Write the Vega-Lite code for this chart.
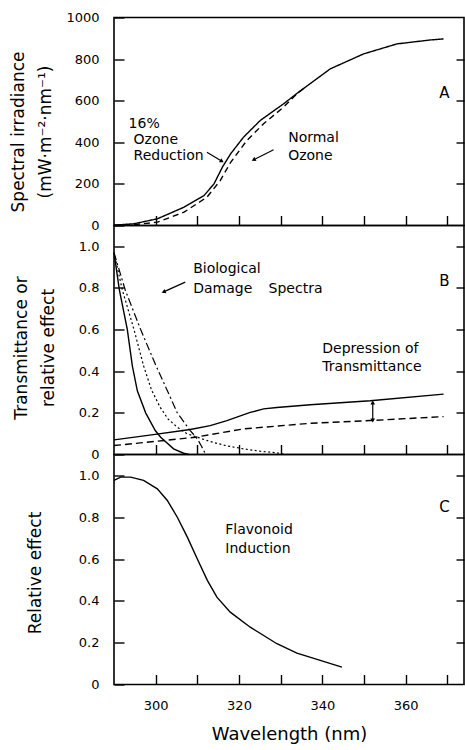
{
  "$schema": "https://vega.github.io/schema/vega-lite/v6.json",
  "padding": {"left": 8, "top": 10.5, "right": 0, "bottom": 0},
  "spacing": 0,
  "bounds": "flush",
  "config": {
    "font": "DejaVu Sans",
    "view": {"stroke": "black", "strokeWidth": 1.6},
    "axis": {"domain": false, "grid": false, "tickColor": "black", "tickWidth": 1.4, "labelColor": "black", "labelFontSize": 13, "titleColor": "black", "titleFontWeight": "normal", "titleFont": "DejaVu Sans", "labelFont": "DejaVu Sans"},
    "text": {"font": "DejaVu Sans", "color": "black"}
  },
  "datasets": {
    "irr": [
      {"series": "reduced", "wl": 290, "v": 2}, {"series": "reduced", "wl": 294.7, "v": 8}, {"series": "reduced", "wl": 300.4, "v": 32},
      {"series": "reduced", "wl": 306.8, "v": 88}, {"series": "reduced", "wl": 311.6, "v": 144}, {"series": "reduced", "wl": 314, "v": 200},
      {"series": "reduced", "wl": 316, "v": 280}, {"series": "reduced", "wl": 318, "v": 345}, {"series": "reduced", "wl": 321.1, "v": 425},
      {"series": "reduced", "wl": 325.1, "v": 505}, {"series": "reduced", "wl": 330.7, "v": 585}, {"series": "reduced", "wl": 334.3, "v": 641},
      {"series": "reduced", "wl": 341.9, "v": 753}, {"series": "reduced", "wl": 349.9, "v": 825}, {"series": "reduced", "wl": 357.9, "v": 873},
      {"series": "reduced", "wl": 365.9, "v": 892}, {"series": "reduced", "wl": 369.1, "v": 897},
      {"series": "normal", "wl": 290, "v": 0}, {"series": "normal", "wl": 294.7, "v": 4}, {"series": "normal", "wl": 300.4, "v": 16},
      {"series": "normal", "wl": 306.8, "v": 64}, {"series": "normal", "wl": 312.3, "v": 136}, {"series": "normal", "wl": 315.5, "v": 216},
      {"series": "normal", "wl": 318, "v": 304}, {"series": "normal", "wl": 321.9, "v": 409}, {"series": "normal", "wl": 325.9, "v": 489},
      {"series": "normal", "wl": 330.7, "v": 569}, {"series": "normal", "wl": 333.9, "v": 633}, {"series": "normal", "wl": 335.5, "v": 659}
    ],
    "panelB": [
      {"series": "trans-reduced", "wl": 290, "v": 0.07}, {"series": "trans-reduced", "wl": 299, "v": 0.094}, {"series": "trans-reduced", "wl": 308.3, "v": 0.12},
      {"series": "trans-reduced", "wl": 313.1, "v": 0.139}, {"series": "trans-reduced", "wl": 317.1, "v": 0.163}, {"series": "trans-reduced", "wl": 322.7, "v": 0.202},
      {"series": "trans-reduced", "wl": 325.9, "v": 0.219}, {"series": "trans-reduced", "wl": 329.1, "v": 0.226}, {"series": "trans-reduced", "wl": 337.1, "v": 0.239},
      {"series": "trans-reduced", "wl": 351.5, "v": 0.258}, {"series": "trans-reduced", "wl": 369.1, "v": 0.29},
      {"series": "trans-normal", "wl": 290, "v": 0.043}, {"series": "trans-normal", "wl": 300, "v": 0.063}, {"series": "trans-normal", "wl": 309.5, "v": 0.083},
      {"series": "trans-normal", "wl": 321.1, "v": 0.123}, {"series": "trans-normal", "wl": 337.1, "v": 0.15}, {"series": "trans-normal", "wl": 351.5, "v": 0.163},
      {"series": "trans-normal", "wl": 369.1, "v": 0.182},
      {"series": "damage-a", "wl": 290, "v": 0.97}, {"series": "damage-a", "wl": 291.3, "v": 0.79}, {"series": "damage-a", "wl": 293.2, "v": 0.6},
      {"series": "damage-a", "wl": 294.4, "v": 0.426}, {"series": "damage-a", "wl": 295.6, "v": 0.306}, {"series": "damage-a", "wl": 297.6, "v": 0.2},
      {"series": "damage-a", "wl": 299.9, "v": 0.115}, {"series": "damage-a", "wl": 301.2, "v": 0.083}, {"series": "damage-a", "wl": 304.3, "v": 0.027},
      {"series": "damage-a", "wl": 306.7, "v": 0.006}, {"series": "damage-a", "wl": 308, "v": 0},
      {"series": "damage-b", "wl": 290, "v": 0.97}, {"series": "damage-b", "wl": 292, "v": 0.79}, {"series": "damage-b", "wl": 294.8, "v": 0.6},
      {"series": "damage-b", "wl": 297.1, "v": 0.426}, {"series": "damage-b", "wl": 299, "v": 0.31}, {"series": "damage-b", "wl": 301.1, "v": 0.226},
      {"series": "damage-b", "wl": 303, "v": 0.17}, {"series": "damage-b", "wl": 305.2, "v": 0.131}, {"series": "damage-b", "wl": 307.5, "v": 0.1},
      {"series": "damage-b", "wl": 310, "v": 0.083}, {"series": "damage-b", "wl": 313.1, "v": 0.062}, {"series": "damage-b", "wl": 317, "v": 0.042},
      {"series": "damage-b", "wl": 321.1, "v": 0.027}, {"series": "damage-b", "wl": 325, "v": 0.016}, {"series": "damage-b", "wl": 329.1, "v": 0.008},
      {"series": "damage-b", "wl": 331, "v": 0},
      {"series": "damage-c", "wl": 290, "v": 0.97}, {"series": "damage-c", "wl": 292.7, "v": 0.79}, {"series": "damage-c", "wl": 296.4, "v": 0.6},
      {"series": "damage-c", "wl": 300, "v": 0.43}, {"series": "damage-c", "wl": 302.5, "v": 0.32}, {"series": "damage-c", "wl": 305.2, "v": 0.2},
      {"series": "damage-c", "wl": 307, "v": 0.15}, {"series": "damage-c", "wl": 308.3, "v": 0.115}, {"series": "damage-c", "wl": 310, "v": 0.075},
      {"series": "damage-c", "wl": 311, "v": 0.04}, {"series": "damage-c", "wl": 312, "v": 0}
    ],
    "flav": [
      {"wl": 290, "v": 0.976}, {"wl": 291.6, "v": 0.992}, {"wl": 294, "v": 0.992}, {"wl": 297.1, "v": 0.976}, {"wl": 300.4, "v": 0.936},
      {"wl": 302.8, "v": 0.88}, {"wl": 305.2, "v": 0.8}, {"wl": 307.6, "v": 0.705}, {"wl": 310, "v": 0.6}, {"wl": 312.4, "v": 0.498},
      {"wl": 314.7, "v": 0.418}, {"wl": 317.9, "v": 0.346}, {"wl": 322.7, "v": 0.274}, {"wl": 329.1, "v": 0.195}, {"wl": 333.9, "v": 0.15},
      {"wl": 339.5, "v": 0.115}, {"wl": 344.7, "v": 0.083}
    ],
    "textA": [
      {"t": "16%", "wl": 293.5, "v": 490}, {"t": "Ozone", "wl": 294.7, "v": 413}, {"t": "Reduction", "wl": 294.7, "v": 332},
      {"t": "Normal", "wl": 331.8, "v": 423}, {"t": "Ozone", "wl": 331.8, "v": 332}
    ],
    "textB": [
      {"t": "Biological", "wl": 309, "v": 0.891}, {"t": "Damage", "wl": 309, "v": 0.793}, {"t": "Spectra", "wl": 327.1, "v": 0.793},
      {"t": "Depression of", "wl": 340, "v": 0.506}, {"t": "Transmittance", "wl": 340, "v": 0.418}
    ],
    "textC": [
      {"t": "Flavonoid", "wl": 316.7, "v": 0.737}, {"t": "Induction", "wl": 316.7, "v": 0.649}
    ],
    "arrowsA": [
      {"id": "reduction", "wl": 312.3, "v": 352, "wl2": 315.9, "v2": 309},
      {"id": "normal", "wl": 328.3, "v": 364, "wl2": 323.5, "v2": 316}
    ],
    "arrowsB": [
      {"id": "bio", "wl": 307.1, "v": 0.828, "wl2": 301.9, "v2": 0.781},
      {"id": "depression", "wl": 352.1, "v": 0.163, "wl2": 352.1, "v2": 0.25}
    ],
    "letters": [
      {"panel": "A", "wl": 369.3, "v": 635}, {"panel": "B", "wl": 369.3, "v": 0.833}, {"panel": "C", "wl": 369.3, "v": 0.847}
    ]
  },
  "vconcat": [
    {
      "width": 350, "height": 208,
      "resolve": {"axis": {"y": "independent"}},
      "layer": [
        {
          "data": {"name": "irr"},
          "mark": {"type": "line", "color": "black", "strokeWidth": 1.4},
          "encoding": {
            "x": {"field": "wl", "type": "quantitative", "scale": {"domain": [290, 374], "nice": false, "zero": false},
                  "axis": {"orient": "bottom", "values": [300, 310, 320, 330, 340, 350, 360, 370], "labels": false, "offset": -10, "tickSize": 10, "title": null}},
            "y": {"field": "v", "type": "quantitative", "scale": {"domain": [0, 1000], "nice": false},
                  "axis": {"orient": "left", "values": [0, 200, 400, 600, 800, 1000], "format": "d", "offset": -10, "tickSize": 10, "labelPadding": 15,
                           "title": ["Spectral irradiance", "(mW·m⁻²·nm⁻¹)"], "titleFontSize": 17, "titleLineHeight": 27,
                           "titleAngle": -90, "titleX": -114, "titleY": 114, "titleBaseline": "top", "titleAlign": "center"}},
            "strokeDash": {"field": "series", "type": "nominal", "scale": {"domain": ["reduced", "normal"], "range": [[1, 0], [6, 4]]}, "legend": null}
          }
        },
        {
          "data": {"name": "letters"},
          "transform": [{"filter": "datum.panel == 'A'"}],
          "mark": {"type": "text", "fontSize": 15, "align": "center", "baseline": "middle"},
          "encoding": {
            "x": {"field": "wl", "type": "quantitative"},
            "y": {"field": "v", "type": "quantitative",
                  "axis": {"orient": "right", "values": [200, 400, 600, 800], "labels": false, "offset": -8, "tickSize": 8, "title": null}},
            "text": {"field": "panel"}
          }
        },
        {
          "data": {"name": "textA"},
          "mark": {"type": "text", "fontSize": 14, "align": "left", "baseline": "middle"},
          "encoding": {
            "x": {"field": "wl", "type": "quantitative"},
            "y": {"field": "v", "type": "quantitative", "axis": null},
            "text": {"field": "t"}
          }
        },
        {
          "data": {"name": "arrowsA"},
          "mark": {"type": "rule", "color": "black", "strokeWidth": 1.2},
          "encoding": {
            "x": {"field": "wl", "type": "quantitative"}, "x2": {"field": "wl2"},
            "y": {"field": "v", "type": "quantitative", "axis": null}, "y2": {"field": "v2"}
          }
        },
        {
          "data": {"name": "arrowsA"},
          "transform": [{"filter": "datum.id == 'reduction'"}],
          "mark": {"type": "point", "shape": "triangle-up", "filled": true, "color": "black", "size": 22, "angle": 121, "opacity": 1},
          "encoding": {
            "x": {"field": "wl2", "type": "quantitative"},
            "y": {"field": "v2", "type": "quantitative", "axis": null}
          }
        },
        {
          "data": {"name": "arrowsA"},
          "transform": [{"filter": "datum.id == 'normal'"}],
          "mark": {"type": "point", "shape": "triangle-up", "filled": true, "color": "black", "size": 22, "angle": 243, "opacity": 1},
          "encoding": {
            "x": {"field": "wl2", "type": "quantitative"},
            "y": {"field": "v2", "type": "quantitative", "axis": null}
          }
        }
      ]
    },
    {
      "width": 350, "height": 229,
      "resolve": {"axis": {"y": "independent"}},
      "layer": [
        {
          "data": {"name": "panelB"},
          "transform": [{"filter": "datum.series == 'trans-reduced' || datum.series == 'damage-a'"}],
          "mark": {"type": "line", "color": "black", "strokeWidth": 1.4},
          "encoding": {
            "x": {"field": "wl", "type": "quantitative", "scale": {"domain": [290, 374], "nice": false, "zero": false},
                  "axis": {"orient": "bottom", "values": [300, 310, 320, 330, 340, 350, 360, 370], "labels": false, "offset": -10, "tickSize": 10, "title": null}},
            "y": {"field": "v", "type": "quantitative", "scale": {"domain": [0, 1.1], "nice": false},
                  "axis": {"orient": "left", "values": [0, 0.2, 0.4, 0.6, 0.8, 1.0], "offset": -10, "tickSize": 10, "labelPadding": 15,
                           "labelExpr": "datum.value == 0 ? '0' : format(datum.value, '.1f')",
                           "title": ["Transmittance or", "relative effect"], "titleFontSize": 17, "titleLineHeight": 27,
                           "titleAngle": -90, "titleX": -111, "titleY": 122, "titleBaseline": "top", "titleAlign": "center"}},
            "detail": {"field": "series"}
          }
        },
        {
          "data": {"name": "panelB"},
          "transform": [{"filter": "datum.series == 'trans-normal'"}],
          "mark": {"type": "line", "color": "black", "strokeWidth": 1.4, "strokeDash": [7, 4]},
          "encoding": {
            "x": {"field": "wl", "type": "quantitative"},
            "y": {"field": "v", "type": "quantitative", "axis": null}
          }
        },
        {
          "data": {"name": "panelB"},
          "transform": [{"filter": "datum.series == 'damage-b'"}],
          "mark": {"type": "line", "color": "black", "strokeWidth": 1.2, "strokeDash": [2, 2.5]},
          "encoding": {
            "x": {"field": "wl", "type": "quantitative"},
            "y": {"field": "v", "type": "quantitative", "axis": null}
          }
        },
        {
          "data": {"name": "panelB"},
          "transform": [{"filter": "datum.series == 'damage-c'"}],
          "mark": {"type": "line", "color": "black", "strokeWidth": 1.2, "strokeDash": [8, 3, 2, 3]},
          "encoding": {
            "x": {"field": "wl", "type": "quantitative"},
            "y": {"field": "v", "type": "quantitative", "axis": null}
          }
        },
        {
          "data": {"name": "letters"},
          "transform": [{"filter": "datum.panel == 'B'"}],
          "mark": {"type": "text", "fontSize": 15, "align": "center", "baseline": "middle"},
          "encoding": {
            "x": {"field": "wl", "type": "quantitative"},
            "y": {"field": "v", "type": "quantitative",
                  "axis": {"orient": "right", "values": [0.2, 0.4, 0.6, 0.8, 1.0], "labels": false, "offset": -8, "tickSize": 8, "title": null}},
            "text": {"field": "panel"}
          }
        },
        {
          "data": {"name": "textB"},
          "mark": {"type": "text", "fontSize": 14, "align": "left", "baseline": "middle"},
          "encoding": {
            "x": {"field": "wl", "type": "quantitative"},
            "y": {"field": "v", "type": "quantitative", "axis": null},
            "text": {"field": "t"}
          }
        },
        {
          "data": {"name": "arrowsB"},
          "mark": {"type": "rule", "color": "black", "strokeWidth": 1.2},
          "encoding": {
            "x": {"field": "wl", "type": "quantitative"}, "x2": {"field": "wl2"},
            "y": {"field": "v", "type": "quantitative", "axis": null}, "y2": {"field": "v2"}
          }
        },
        {
          "data": {"name": "arrowsB"},
          "transform": [{"filter": "datum.id == 'bio'"}],
          "mark": {"type": "point", "shape": "triangle-up", "filled": true, "color": "black", "size": 22, "angle": 246, "opacity": 1},
          "encoding": {
            "x": {"field": "wl2", "type": "quantitative"},
            "y": {"field": "v2", "type": "quantitative", "axis": null}
          }
        },
        {
          "data": {"name": "arrowsB"},
          "transform": [{"filter": "datum.id == 'depression'"}],
          "mark": {"type": "point", "shape": "triangle-up", "filled": true, "color": "black", "size": 22, "angle": 0, "opacity": 1},
          "encoding": {
            "x": {"field": "wl2", "type": "quantitative"},
            "y": {"field": "v2", "type": "quantitative", "axis": null}
          }
        },
        {
          "data": {"name": "arrowsB"},
          "transform": [{"filter": "datum.id == 'depression'"}],
          "mark": {"type": "point", "shape": "triangle-down", "filled": true, "color": "black", "size": 22, "opacity": 1},
          "encoding": {
            "x": {"field": "wl", "type": "quantitative"},
            "y": {"field": "v", "type": "quantitative", "axis": null}
          }
        }
      ]
    },
    {
      "width": 350, "height": 230,
      "resolve": {"axis": {"y": "independent"}},
      "layer": [
        {
          "data": {"name": "flav"},
          "mark": {"type": "line", "color": "black", "strokeWidth": 1.4},
          "encoding": {
            "x": {"field": "wl", "type": "quantitative", "scale": {"domain": [290, 374], "nice": false, "zero": false},
                  "axis": {"orient": "bottom", "values": [300, 310, 320, 330, 340, 350, 360, 370], "offset": -10, "tickSize": 10, "labelPadding": 15,
                           "labelExpr": "datum.value % 20 == 0 ? datum.label : ''", "labelFlush": false,
                           "title": "Wavelength (nm)", "titleFontSize": 18, "titlePadding": 13}},
            "y": {"field": "v", "type": "quantitative", "scale": {"domain": [0, 1.1], "nice": false},
                  "axis": {"orient": "left", "values": [0, 0.2, 0.4, 0.6, 0.8, 1.0], "offset": -10, "tickSize": 10, "labelPadding": 15,
                           "labelExpr": "datum.value == 0 ? '0' : format(datum.value, '.1f')",
                           "title": "Relative effect", "titleFontSize": 17,
                           "titleAngle": -90, "titleX": -97, "titleY": 118, "titleBaseline": "top", "titleAlign": "center"}}
          }
        },
        {
          "data": {"name": "letters"},
          "transform": [{"filter": "datum.panel == 'C'"}],
          "mark": {"type": "text", "fontSize": 15, "align": "center", "baseline": "middle"},
          "encoding": {
            "x": {"field": "wl", "type": "quantitative"},
            "y": {"field": "v", "type": "quantitative",
                  "axis": {"orient": "right", "values": [0.2, 0.4, 0.6, 0.8, 1.0], "labels": false, "offset": -8, "tickSize": 8, "title": null}},
            "text": {"field": "panel"}
          }
        },
        {
          "data": {"name": "textC"},
          "mark": {"type": "text", "fontSize": 14, "align": "left", "baseline": "middle"},
          "encoding": {
            "x": {"field": "wl", "type": "quantitative"},
            "y": {"field": "v", "type": "quantitative", "axis": null},
            "text": {"field": "t"}
          }
        }
      ]
    }
  ]
}
